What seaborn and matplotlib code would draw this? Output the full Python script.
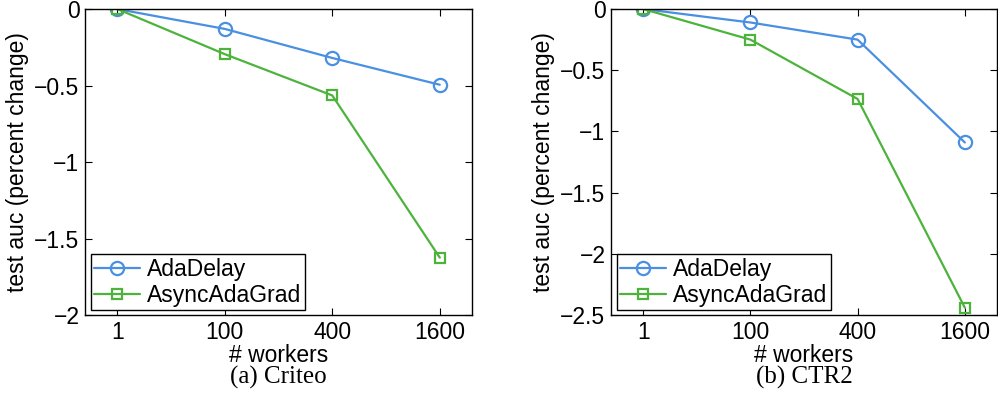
import numpy as np
import pandas as pd
import matplotlib
matplotlib.use("Agg")
import matplotlib.pyplot as plt
import seaborn as sns
from matplotlib.ticker import FuncFormatter

# data
workers = ["1", "100", "400", "1600"]
criteo_adadelay = [0.0, -0.13, -0.32, -0.495]
criteo_async = [0.0, -0.295, -0.565, -1.625]
ctr2_adadelay = [0.0, -0.11, -0.25, -1.09]
ctr2_async = [0.0, -0.25, -0.735, -2.44]
series_names = ["AdaDelay", "AsyncAdaGrad"]
captions = ["(a) Criteo", "(b) CTR2"]

blue = "#4a90e2"
green = "#4db33d"
fs = 16.5

sns.set_style("ticks")
plt.rcParams["font.family"] = ["Liberation Sans", "DejaVu Sans"]
plt.rcParams.update({"font.size": fs, "axes.linewidth": 1.0,
                     "xtick.direction": "in", "ytick.direction": "in",
                     "xtick.top": True, "ytick.right": True,
                     "xtick.major.size": 5, "ytick.major.size": 5,
                     "xtick.color": "black", "ytick.color": "black",
                     "axes.edgecolor": "black", "text.color": "black",
                     "axes.labelcolor": "black", "axes.unicode_minus": True})

fig = plt.figure(figsize=(9.98, 4.12), dpi=100)
ax1 = fig.add_axes([0.0852, 0.2354, 0.3878, 0.7427])
ax2 = fig.add_axes([0.6122, 0.2354, 0.3868, 0.7427])

fmt = FuncFormatter(lambda v, p: ("%g" % v).replace("-", "\u2212"))

panels = [
    (ax1, criteo_adadelay, criteo_async, (-2, 0), np.arange(-2, 0.01, 0.5)),
    (ax2, ctr2_adadelay, ctr2_async, (-2.5, 0), np.arange(-2.5, 0.01, 0.5)),
]

for i, (ax, ada, asy, ylim, yticks) in enumerate(panels):
    sns.lineplot(x=workers, y=ada, ax=ax, sort=False, color=blue, lw=1.6,
                 marker="o", ms=9.5, mfc="none", mec=blue, mew=1.6, label=series_names[0])
    sns.lineplot(x=workers, y=asy, ax=ax, sort=False, color=green, lw=1.6,
                 marker="s", ms=7.5, mfc="none", mec=green, mew=1.6, label=series_names[1])
    ax.set_xlim(-0.3, 3.3)
    ax.set_ylim(*ylim)
    ax.set_yticks(yticks)
    ax.yaxis.set_major_formatter(fmt)
    ax.tick_params(axis="both", labelsize=fs, pad=4)
    ax.set_xlabel("# workers", fontsize=fs, labelpad=0)
    ax.set_ylabel("test auc (percent change)", fontsize=fs)
    ax.yaxis.set_label_coords(-0.145, 0.5)
    for s in ax.spines.values():
        s.set_visible(True)
    leg = ax.legend(loc="lower left", bbox_to_anchor=(0.015, 0.015), fontsize=fs,
                    frameon=True, fancybox=False, framealpha=1, edgecolor="black",
                    handlelength=2.0, handletextpad=0.3, borderpad=0.15,
                    labelspacing=0.15, borderaxespad=0)
    leg.get_frame().set_linewidth(1.0)
    cx = (ax.get_position().x0 + ax.get_position().x1) / 2
    fig.text(cx, 0.083, captions[i], ha="center", va="center", fontsize=18,
             family=["Liberation Serif", "DejaVu Serif"])

fig.savefig("out.png", dpi=100)
